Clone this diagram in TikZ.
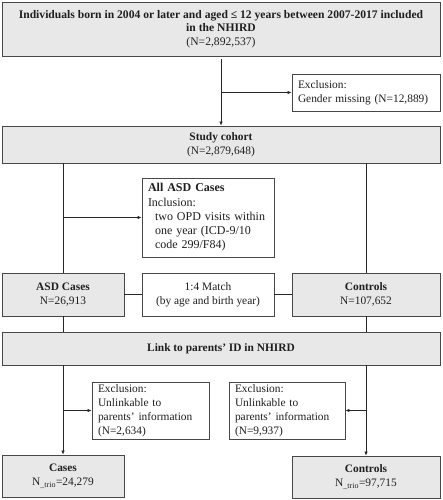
\documentclass[tikz,border=0pt]{standalone}
\usepackage{fontspec}
\setmainfont{Liberation Serif}
\usetikzlibrary{arrows.meta}

\begin{document}
\begin{tikzpicture}[x=1pt,y=-1pt,
  box/.style={draw=black!72,line width=0.8pt,inner sep=0pt,text=black!88,font=\fontsize{11.4}{14}\selectfont},
  gbox/.style={box,fill=black!9,align=center},
  wbox/.style={box,fill=white,align=left,inner xsep=6pt},
  link/.style={draw=black!85,line width=0.7pt},
  arr/.style={link,-{Latex[length=4pt,width=3.6pt]}}]

\useasboundingbox (0,0) rectangle (442,500);

% top
\node (tbox) at (221,29)[gbox,minimum width=438pt,minimum height=54pt,font=\fontsize{11.6}{13.6}\selectfont]{\textbf{Individuals born in 2004 or later and aged ≤ 12 years between 2007-2017 included}\\\textbf{in the NHIRD}\\(N=2,892,537)};
\node (gender) at (366,92.5)[wbox,minimum width=148pt,minimum height=37pt,text width=136pt]{Exclusion:\\Gender missing (N=12,889)};
\node (cohort) at (221,144.5)[gbox,minimum width=438pt,minimum height=37pt]{\textbf{Study cohort}\\(N=2,879,648)};

% matching
\node (allasd) at (208,217.5)[wbox,minimum width=132pt,minimum height=79pt,text width=120pt,font=\fontsize{12}{14.3}\selectfont]{\textbf{All ASD Cases}\\Inclusion:\\\hspace*{7pt}two OPD visits within\\\hspace*{7pt}one year (ICD-9/10\\\hspace*{7pt}code 299/F84)};
\node (asd) at (63,294.5)[gbox,minimum width=122pt,minimum height=43pt]{\textbf{ASD Cases}\\N=26,913};
\node (match) at (208,294.5)[box,fill=white,align=center,minimum width=132pt,minimum height=43pt]{1:4 Match\\(by age and birth year)};
\node (ctrl) at (366,294.5)[gbox,minimum width=148pt,minimum height=43pt]{\textbf{Controls}\\N=107,652};

% parents
\node (nhird) at (221,348.5)[gbox,minimum width=438pt,minimum height=33pt]{\textbf{Link to parents’ ID in NHIRD}};
\node (exca) at (150.5,410.5)[wbox,minimum width=117pt,minimum height=57pt,text width=105pt]{Exclusion:\\Unlinkable to\\parents’ information\\(N=2,634)};
\node (excc) at (287,410.5)[wbox,minimum width=116pt,minimum height=57pt,text width=104pt]{Exclusion:\\Unlinkable to\\parents’ information\\(N=9,937)};
\node (cases) at (63,476)[gbox,minimum width=122pt,minimum height=42pt]{\textbf{Cases}\\N\textsubscript{\_trio}=24,279};
\node (ctrltrio) at (366,477)[gbox,minimum width=148pt,minimum height=42pt]{\textbf{Controls}\\N\textsubscript{\_trio}=97,715};

% connectors
\draw[arr] ([yshift=-3pt]tbox.south) -- (cohort.north);
\draw[arr] (tbox.south |- gender.west) -- (gender.west);
\draw[link] (cohort.south -| asd.north) -- (asd.north);
\draw[link] (cohort.south -| ctrl.north) -- (ctrl.north);
\draw[arr] (asd.north |- allasd.west) -- (allasd.west);
\draw[link] (asd.east) -- (match.west);
\draw[link] (match.east) -- (ctrl.west);
\draw[link] (asd.south) -- (nhird.north -| asd.south);
\draw[link] (ctrl.south) -- (nhird.north -| ctrl.south);
\draw[arr] (nhird.south -| cases.north) -- (cases.north);
\draw[arr] (cases.north |- exca.west) -- (exca.west);
\draw[arr] (nhird.south -| ctrltrio.north) -- (ctrltrio.north);
\draw[arr] (ctrltrio.north |- excc.east) -- (excc.east);
\end{tikzpicture}
\end{document}
